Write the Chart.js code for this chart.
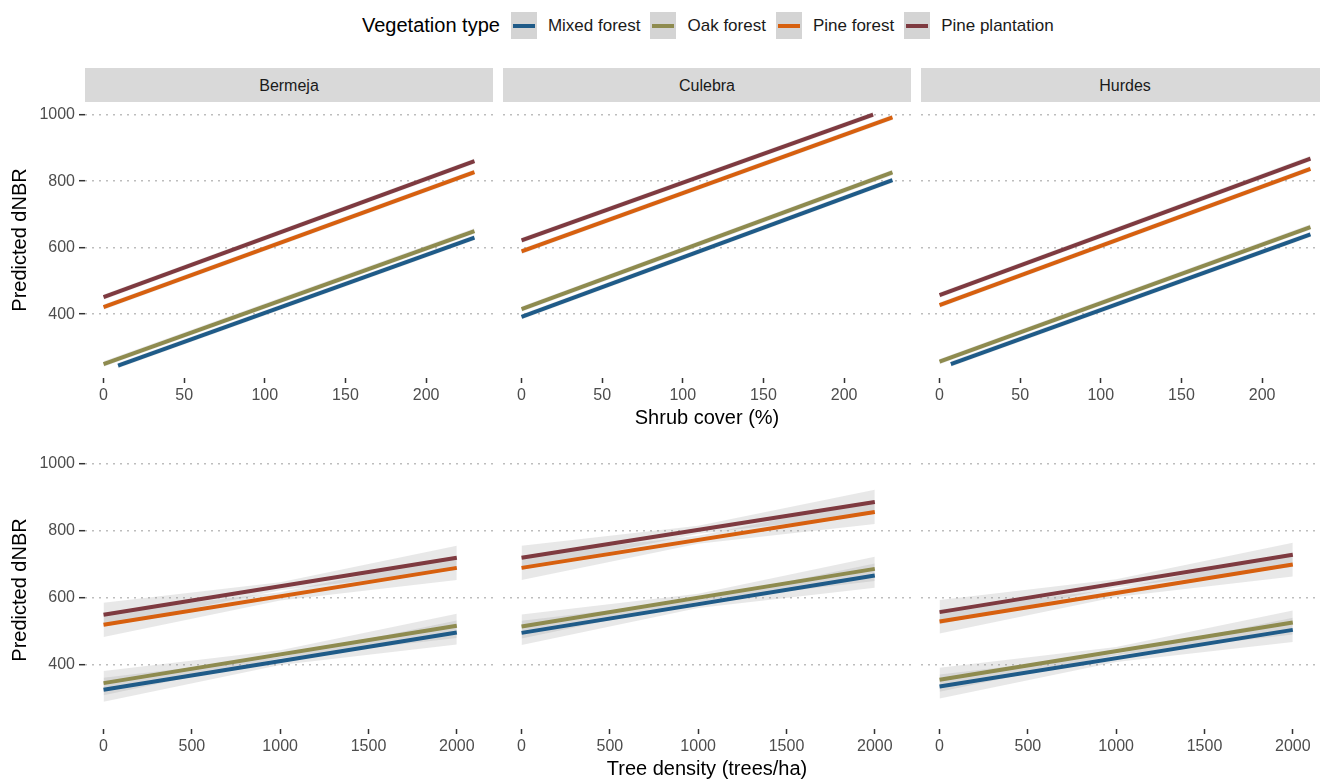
<!DOCTYPE html>
<html>
<head>
<meta charset="utf-8">
<script src="https://cdn.jsdelivr.net/npm/chart.js@4.4.1/dist/chart.umd.min.js"></script>
<style>
  body { margin: 0; width: 1320px; height: 779px; overflow: hidden; background: #fff; position: relative;
         font-family: "Liberation Sans", Arial, sans-serif; }
  canvas { position: absolute; }
  .strip { position: absolute; top: 68px; height: 34px; width: 408px; background: #d9d9d9;
           font-size: 16px; color: #1a1a1a; text-align: center; line-height: 36px; }
  #legend { position: absolute; top: 12px; left: 362px; height: 27px; display: flex; align-items: center; white-space: nowrap; }
  #legend .title { font-size: 20px; color: #000; margin-right: 11px; }
  #legend .key { width: 26px; height: 27px; background: #d4d4d4; position: relative; margin-right: 11px; }
  #legend .key span { position: absolute; left: 2px; right: 2px; top: 12px; height: 4px; }
  #legend .lab { font-size: 17px; color: #1a1a1a; margin-right: 10px; }
</style>
</head>
<body>
<div id="legend"></div>
<div class="strip" style="left:85px">Bermeja</div>
<div class="strip" style="left:503px">Culebra</div>
<div class="strip" style="left:921px">Hurdes</div>

<script>
// --- data ---
const sites = ['Bermeja', 'Culebra', 'Hurdes'];
const vegTypes = ['Mixed forest', 'Oak forest', 'Pine forest', 'Pine plantation'];
const vegColors = ['#1f5b88', '#8e8b4f', '#d7600f', '#7e3a40'];

const yTicks = [400, 600, 800, 1000];
const shrubTicks = [0, 50, 100, 150, 200];
const densTicks = [0, 500, 1000, 1500, 2000];

// shrub cover (%) -> predicted dNBR, [site][vegType]
const shrubFrom = [[9, 0, 0, 0], [0, 0, 0, 0], [7, 0, 0, 0]];
const shrubTo = [[230, 230, 230, 230], [230, 230, 230, 218], [230, 230, 230, 230]];
const shrubFitFrom = [[245, 250, 421, 451], [392, 415, 589, 622], [250, 257, 427, 457]];
const shrubFitTo = [[630, 650, 827, 860], [803, 826, 992, 1000], [640, 662, 837, 868]];
const shrubLoFrom = [[237, 242, 413, 443], [384, 407, 581, 614], [242, 249, 419, 449]];
const shrubHiFrom = [[253, 258, 429, 459], [400, 423, 597, 630], [258, 265, 435, 465]];
const shrubLoTo = [[622, 642, 819, 852], [795, 818, 984, 992], [632, 654, 829, 860]];
const shrubHiTo = [[638, 658, 835, 868], [811, 834, 1000, 1008], [648, 670, 845, 876]];

// tree density (trees/ha) -> predicted dNBR, fit at 0 and 2000
const densX = [0, 2000];
const densFitFrom = [[325, 345, 519, 549], [495, 514, 689, 719], [335, 355, 529, 557]];
const densFitTo = [[496, 516, 689, 719], [666, 686, 856, 886], [504, 526, 699, 728]];
// confidence band at 0, 1000, 2000
const densBandX = [0, 1000, 2000];
const densLo = [
  [[289, 399, 460], [309, 419, 480], [483, 592, 653], [513, 622, 683]],
  [[459, 569, 630], [478, 588, 650], [653, 761, 820], [683, 791, 850]],
  [[299, 408, 468], [319, 429, 490], [493, 602, 663], [521, 631, 692]]
];
const densHi = [
  [[361, 423, 532], [381, 443, 552], [555, 616, 725], [585, 646, 755]],
  [[531, 593, 702], [550, 612, 722], [725, 785, 892], [755, 815, 922]],
  [[371, 432, 540], [391, 453, 562], [565, 626, 735], [593, 655, 764]]
];

// --- legend ---
const legend = document.getElementById('legend');
legend.innerHTML = '<span class="title">Vegetation type</span>' + vegTypes.map((t, i) =>
  `<span class="key"><span style="background:${vegColors[i]}"></span></span><span class="lab">${t}</span>`
).join('');

const FONT = '"Liberation Sans", Arial, sans-serif';
const RIBBON = 'rgba(150,150,150,0.22)';
const panelLeft = [0, 503, 921];
const panelWidth = [493, 408, 408];

function buildDatasets(lines, bands) {
  // lines first so they are drawn on top of the ribbons
  const ds = [];
  lines.forEach((pts, i) => ds.push({
    data: pts, borderColor: vegColors[i], borderWidth: 4, pointRadius: 0, fill: false, tension: 0
  }));
  bands.forEach(b => {
    const loIdx = ds.length;
    ds.push({ data: b.lo, borderWidth: 0, pointRadius: 0, fill: false });
    ds.push({ data: b.hi, borderWidth: 0, pointRadius: 0, fill: { target: loIdx }, backgroundColor: RIBBON });
  });
  return ds;
}

function noPad(s) {
  s.paddingTop = 0; s.paddingBottom = 0; s.paddingLeft = 0; s.paddingRight = 0;
}

function makePanel(site, top, height, xMin, xMax, xTicks, datasets, xTitle) {
  const cv = document.createElement('canvas');
  const w = panelWidth[site];
  cv.width = w; cv.height = height;
  cv.style.left = panelLeft[site] + 'px';
  cv.style.top = top + 'px';
  document.body.appendChild(cv);
  const first = site === 0;
  new Chart(cv, {
    type: 'line',
    data: { datasets },
    options: {
      responsive: false, animation: false, devicePixelRatio: 1,
      layout: { padding: 0 },
      plugins: { legend: { display: false }, tooltip: { enabled: false } },
      scales: {
        x: {
          type: 'linear', min: xMin, max: xMax,
          afterBuildTicks: s => { s.ticks = xTicks.map(v => ({ value: v })); },
          afterFit: s => { s.height = 55; noPad(s); },
          grid: { drawOnChartArea: false, drawTicks: true, tickLength: 5, tickColor: '#333', tickWidth: 1.5, tickBorderDash: [] },
          border: { display: false },
          ticks: { color: '#4d4d4d', font: { family: FONT, size: 16 }, padding: 3, maxRotation: 0,
                   callback: v => String(v) },
          title: { display: !!xTitle, text: xTitle || '', color: '#000', font: { family: FONT, size: 20 }, padding: { top: 0, bottom: 3 } }
        },
        y: {
          type: 'linear', min: 208, max: 1038,
          afterBuildTicks: s => { s.ticks = yTicks.map(v => ({ value: v })); },
          afterFit: s => { s.width = first ? 85 : 0; noPad(s); },
          grid: { color: '#bdbdbd', lineWidth: 1.4, drawTicks: first, tickLength: 6, tickColor: '#333', tickWidth: 1.5, tickBorderDash: [] },
          border: { display: false, dash: [2, 5] },
          ticks: { display: first, color: '#4d4d4d', font: { family: FONT, size: 16 }, padding: 4,
                   callback: v => String(v) },
          title: { display: first, text: 'Predicted dNBR', color: '#000', font: { family: FONT, size: 20 }, padding: { top: 8, bottom: 0 } }
        }
      }
    }
  });
}

sites.forEach((s, si) => {
  // top row: shrub cover
  const shrubLines = vegTypes.map((t, i) => [
    { x: shrubFrom[si][i], y: shrubFitFrom[si][i] },
    { x: shrubTo[si][i], y: shrubFitTo[si][i] }
  ]);
  const shrubBands = vegTypes.map((t, i) => ({
    lo: [{ x: shrubFrom[si][i], y: shrubLoFrom[si][i] }, { x: shrubTo[si][i], y: shrubLoTo[si][i] }],
    hi: [{ x: shrubFrom[si][i], y: shrubHiFrom[si][i] }, { x: shrubTo[si][i], y: shrubHiTo[si][i] }]
  }));
  makePanel(si, 102, 331, -11.5, 241.5, shrubTicks, buildDatasets(shrubLines, shrubBands),
    si === 1 ? 'Shrub cover (%)' : null);

  // bottom row: tree density
  const densLines = vegTypes.map((t, i) => [
    { x: densX[0], y: densFitFrom[si][i] },
    { x: densX[1], y: densFitTo[si][i] }
  ]);
  const densBands = vegTypes.map((t, i) => ({
    lo: densBandX.map((x, k) => ({ x, y: densLo[si][i][k] })),
    hi: densBandX.map((x, k) => ({ x, y: densHi[si][i][k] }))
  }));
  makePanel(si, 451, 333, -105, 2205, densTicks, buildDatasets(densLines, densBands),
    si === 1 ? 'Tree density (trees/ha)' : null);
});
</script>
</body>
</html>
